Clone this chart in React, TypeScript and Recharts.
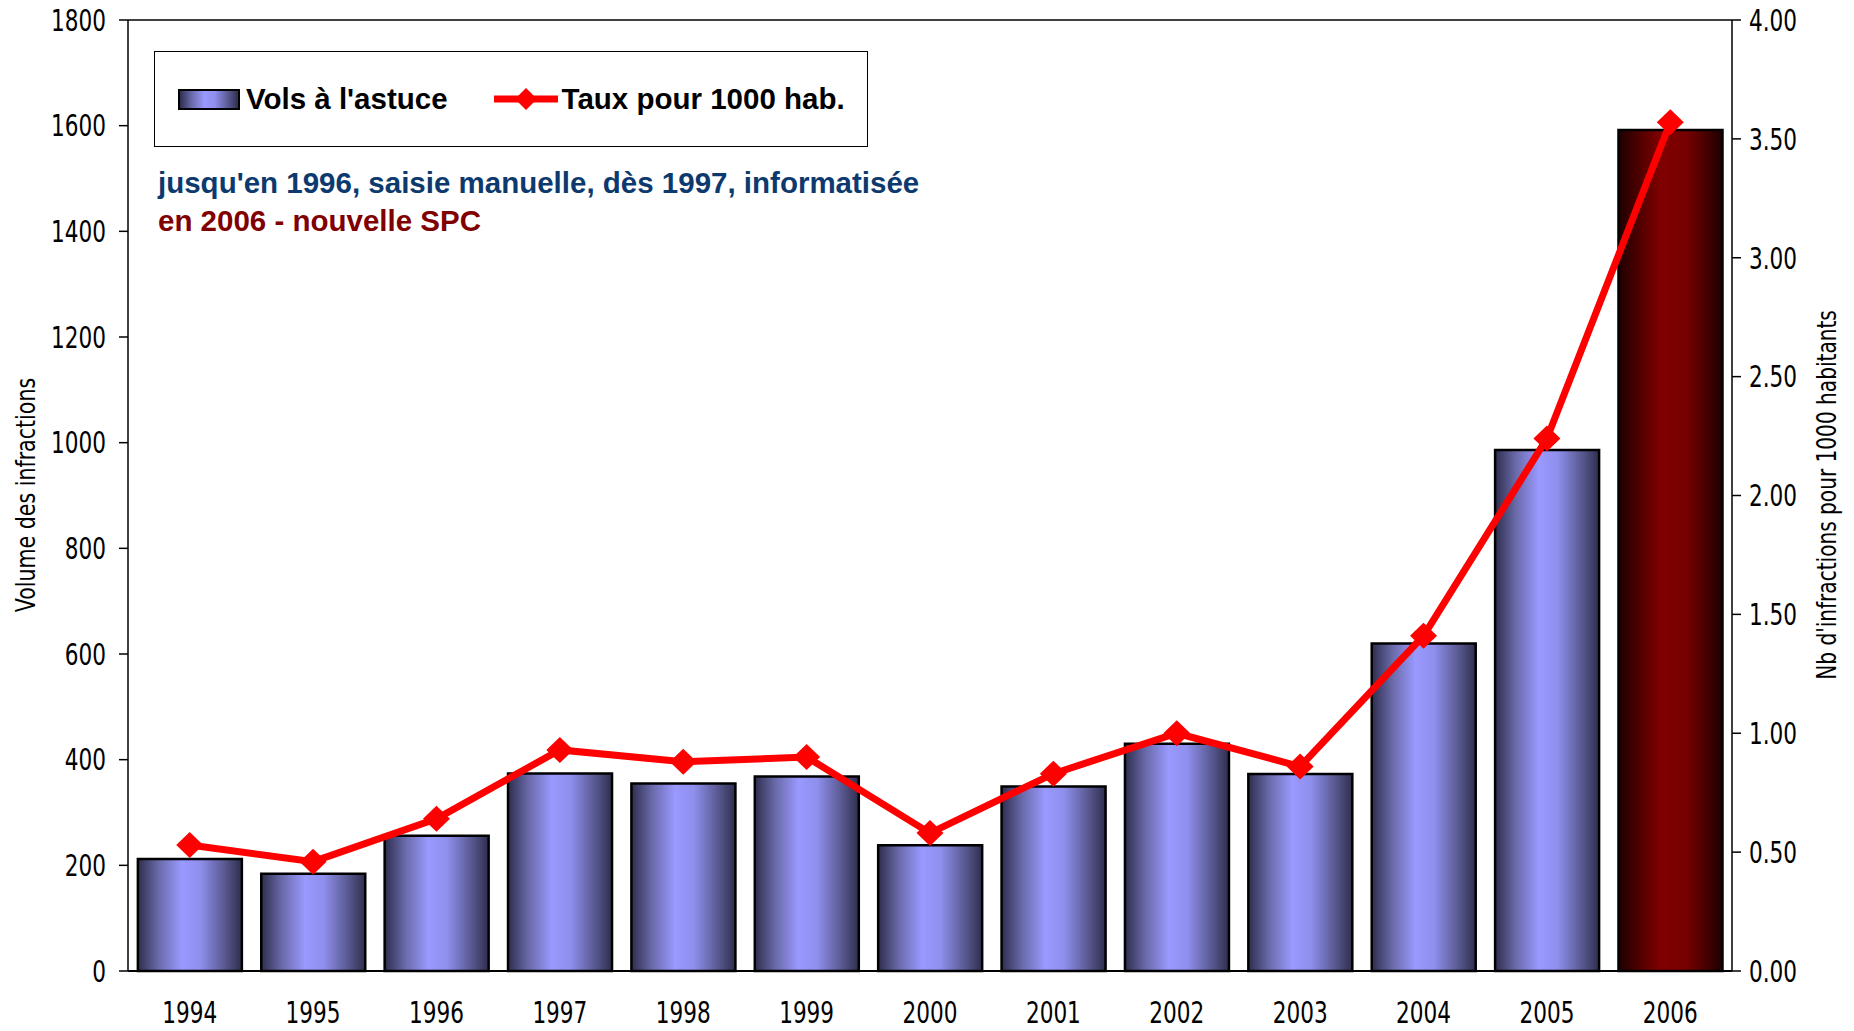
import React from 'react';
import { ComposedChart, Bar, Line, XAxis, YAxis, Legend, Cell, ReferenceLine } from 'recharts';

const years = ['1994', '1995', '1996', '1997', '1998', '1999', '2000', '2001', '2002', '2003', '2004', '2005', '2006'];
const vols = [212, 184, 256, 374, 355, 368, 238, 349, 430, 373, 620, 986, 1592];
const taux = [0.53, 0.46, 0.64, 0.93, 0.88, 0.9, 0.58, 0.83, 1.0, 0.86, 1.41, 2.24, 3.57];
const leftTicks = [0, 200, 400, 600, 800, 1000, 1200, 1400, 1600, 1800];
const rightTicks = [0, 0.5, 1, 1.5, 2, 2.5, 3, 3.5, 4];

const data = years.map((year, i) => ({ year, vols: vols[i], taux: taux[i] }));

const narrow = '"Liberation Sans Narrow", "DejaVu Sans Condensed", "Arial Narrow", sans-serif';
const bold = '"Liberation Sans", Arial, sans-serif';

// condensed text: squeeze horizontally since no true condensed face is around
const NarrowText = ({ x, y, anchor, dy, size = 29, sx = 0.83, rotate = 0, children }: any) => (
  <text
    transform={`translate(${x},${y}) rotate(${rotate}) scale(${sx},1)`}
    textAnchor={anchor}
    dy={dy}
    fontSize={size}
    fontFamily={narrow}
    fill="#000"
  >
    {children}
  </text>
);

const XTick = (props: any) => (
  <NarrowText x={props.x} y={props.y} anchor="middle" dy="0.71em" size={30} sx={0.8}>
    {props.payload.value}
  </NarrowText>
);

const LeftTick = (props: any) => (
  <NarrowText x={props.x} y={props.y} anchor="end" dy="0.36em" size={30} sx={0.8}>
    {props.payload.value}
  </NarrowText>
);

const RightTick = (props: any) => (
  <NarrowText x={props.x} y={props.y} anchor="start" dy="0.36em" size={30} sx={0.8}>
    {Number(props.payload.value).toFixed(2)}
  </NarrowText>
);

const Diamond = (props: any) => {
  const { cx, cy } = props;
  if (cx == null || cy == null) return null;
  return <polygon points={`${cx},${cy - 13} ${cx + 13.5},${cy} ${cx},${cy + 13} ${cx - 13.5},${cy}`} fill="#ff0000" />;
};

const renderLegend = () => (
  <div
    style={{
      width: 714,
      height: 96,
      boxSizing: 'border-box',
      border: '1px solid #000',
      background: '#fff',
      display: 'flex',
      alignItems: 'center',
      fontFamily: bold,
      fontWeight: 'bold',
      fontSize: 29.5,
      color: '#000',
      paddingLeft: 23,
    }}
  >
    <span
      style={{
        display: 'inline-block',
        width: 62,
        height: 21,
        boxSizing: 'border-box',
        border: '2px solid #000',
        background: 'linear-gradient(to right, #2e2e4e 0%, #6a6aaa 20%, #9999ff 42%, #8f8fee 60%, #55558a 85%, #2e2e4e 100%)',
      }}
    />
    <span style={{ marginLeft: 6 }}>Vols à l'astuce</span>
    <svg width={64} height={30} style={{ marginLeft: 46 }}>
      <line x1={0} y1={15} x2={64} y2={15} stroke="#ff0000" strokeWidth={7} />
      <polygon points="32,4 43,15 32,26 21,15" fill="#ff0000" />
    </svg>
    <span style={{ marginLeft: 4 }}>Taux pour 1000 hab.</span>
  </div>
);

export default function App() {
  return (
    <div style={{ position: 'absolute', left: 0, top: 0, width: 1854, height: 1031, background: '#fff' }}>
      <ComposedChart
        width={1854}
        height={1031}
        data={data}
        margin={{ top: 20, right: 0, bottom: 0, left: 0 }}
        barCategoryGap="8%"
      >
        <defs>
          <linearGradient id="blueGrad" x1="0" y1="0" x2="1" y2="0">
            <stop offset="0%" stopColor="#2e2e4e" />
            <stop offset="20%" stopColor="#6a6aaa" />
            <stop offset="42%" stopColor="#9999ff" />
            <stop offset="60%" stopColor="#8f8fee" />
            <stop offset="85%" stopColor="#55558a" />
            <stop offset="100%" stopColor="#2e2e4e" />
          </linearGradient>
          <linearGradient id="redGrad" x1="0" y1="0" x2="1" y2="0">
            <stop offset="0%" stopColor="#1e0000" />
            <stop offset="40%" stopColor="#800000" />
            <stop offset="65%" stopColor="#780000" />
            <stop offset="100%" stopColor="#1e0000" />
          </linearGradient>
        </defs>
        <XAxis
          dataKey="year"
          height={60}
          axisLine={{ stroke: '#000', strokeWidth: 2 }}
          tickLine={false}
          tickSize={0}
          tickMargin={31}
          interval={0}
          tick={XTick}
        />
        <YAxis
          yAxisId="left"
          orientation="left"
          width={128}
          domain={[0, 1800]}
          ticks={leftTicks}
          interval={0}
          axisLine={{ stroke: '#000', strokeWidth: 1.5 }}
          tickLine={{ stroke: '#000', strokeWidth: 1.5 }}
          tickSize={9}
          tickMargin={13}
          tick={LeftTick}
          label={{
            content: () => (
              <NarrowText x={26} y={495} anchor="middle" dy="0.36em" size={26} sx={0.88} rotate={-90}>
                Volume des infractions
              </NarrowText>
            ),
          }}
        />
        <YAxis
          yAxisId="right"
          orientation="right"
          width={122}
          domain={[0, 4]}
          ticks={rightTicks}
          interval={0}
          axisLine={{ stroke: '#000', strokeWidth: 1.5 }}
          tickLine={{ stroke: '#000', strokeWidth: 1.5 }}
          tickSize={9}
          tickMargin={8}
          tick={RightTick}
          label={{
            content: () => (
              <NarrowText x={1827} y={495} anchor="middle" dy="0.36em" size={26} sx={0.86} rotate={-90}>
                Nb d'infractions pour 1000 habitants
              </NarrowText>
            ),
          }}
        />
        <ReferenceLine yAxisId="left" y={1800} stroke="#000" strokeWidth={1.5} />
        <Legend
          layout="horizontal"
          verticalAlign="middle"
          align="center"
          content={renderLegend}
          wrapperStyle={{ left: 154, top: 51, width: 714, height: 96 }}
        />
        <Bar yAxisId="left" dataKey="vols" name="Vols à l'astuce" fill="url(#blueGrad)" stroke="#000" strokeWidth={2.5} isAnimationActive={false}>
          {data.map((d, i) => (
            <Cell key={d.year} fill={i === data.length - 1 ? 'url(#redGrad)' : 'url(#blueGrad)'} />
          ))}
        </Bar>
        <Line
          yAxisId="right"
          type="linear"
          dataKey="taux"
          name="Taux pour 1000 hab."
          stroke="#ff0000"
          strokeWidth={7}
          dot={<Diamond />}
          activeDot={false}
          isAnimationActive={false}
        />
      </ComposedChart>
      <div
        style={{
          position: 'absolute',
          left: 158,
          top: 164,
          fontFamily: bold,
          fontWeight: 'bold',
          fontSize: 29.5,
          lineHeight: '38px',
          whiteSpace: 'nowrap',
        }}
      >
        <div style={{ color: '#0d3a6e' }}>jusqu'en 1996, saisie manuelle, dès 1997, informatisée</div>
        <div style={{ color: '#800000' }}>en 2006 - nouvelle SPC</div>
      </div>
    </div>
  );
}
